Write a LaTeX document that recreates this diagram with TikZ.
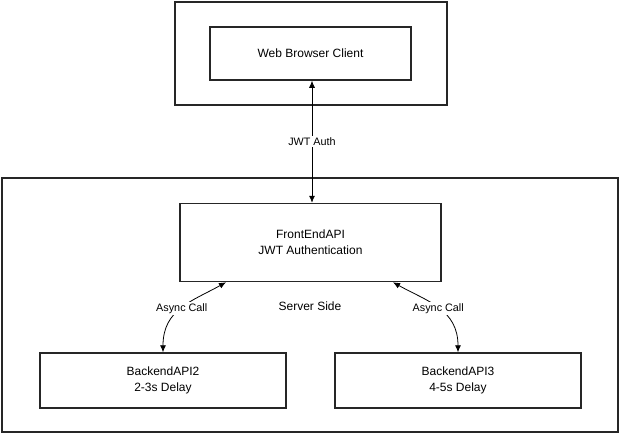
\documentclass[tikz,border=0pt]{standalone}
\usepackage{fontspec}
\setmainfont{Liberation Sans}
\usetikzlibrary{arrows.meta}
\begin{document}
\begin{tikzpicture}[x=1pt,y=-1pt,
  box/.style={draw=black!85,line width=1.5pt,fill=white,align=center,
    inner sep=0pt,font=\fontsize{12}{16}\selectfont},
  frame/.style={draw=black!85,line width=1.3pt,inner sep=0pt},
  conn/.style={draw=black,line width=0.8pt,
    {Latex[length=7pt,width=6pt]}-{Latex[length=7pt,width=6pt]}},
  lbl/.style={fill=white,inner sep=1.5pt,font=\fontsize{10.8}{12}\selectfont}]
\useasboundingbox (0,0) rectangle (619,434);
% frames
\node[frame,minimum width=272pt,minimum height=103pt] (clientframe) at (311,53.5) {};
\node[frame,minimum width=616pt,minimum height=254pt] (server) at (310,305) {};
% boxes
\node[box,minimum width=201pt,minimum height=53pt] (client) at (310.5,53.5) {Web Browser Client};
\node[box,minimum width=261pt,minimum height=78pt] (fe) at (310.5,242.5) {FrontEndAPI\\JWT Authentication};
\node[box,minimum width=246pt,minimum height=55pt] (b2) at (163,380.5) {BackendAPI2\\2-3s Delay};
\node[box,minimum width=246pt,minimum height=55pt] (b3) at (458,380.5) {BackendAPI3\\4-5s Delay};
\node[font=\fontsize{12}{14}\selectfont] (srv) at (310,306) {Server Side};
% connectors
\draw[conn] ([xshift=1.5pt]client.south) -- node[lbl] {JWT Auth} ([xshift=1.5pt]fe.north);
\draw[conn] (b2.north) .. controls +(0,-43) and +(-34,19) .. node[lbl,pos=0.5] {Async Call} ([xshift=-84.5pt]fe.south);
\draw[conn] ([xshift=82.5pt]fe.south) .. controls +(34,19) and +(0,-43) .. node[lbl,pos=0.5] {Async Call} (b3.north);
\end{tikzpicture}
\end{document}
